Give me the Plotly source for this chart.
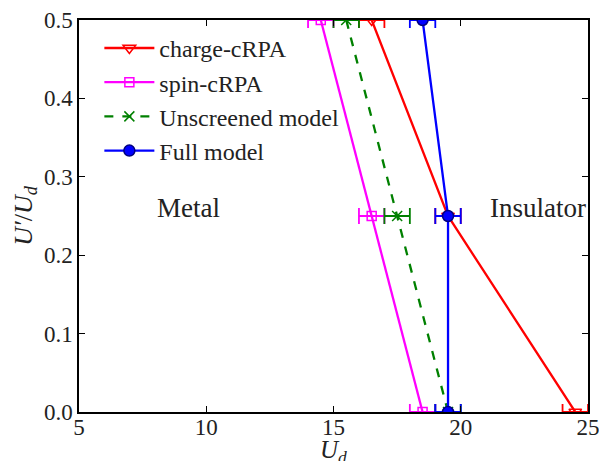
import plotly.graph_objects as go

y_vals = [0.0, 0.25, 0.5]
charge_x = [24.5, 19.5, 16.5]
spin_x = [18.5, 16.5, 14.5]
unscr_x = [19.5, 17.5, 15.5]
full_x = [19.5, 19.5, 18.5]
err = [0.5, 0.5, 0.5]

FONT = "Liberation Serif"

fig = go.Figure()

def add(name, xs, color, symbol, dash, size, mline=None, fillc=None):
    fig.add_trace(go.Scatter(
        x=xs, y=y_vals, name=name, mode="lines+markers",
        line=dict(color=color, width=2.3, dash=dash),
        marker=dict(symbol=symbol, size=size, color=fillc or color,
                    line=dict(color=mline or color, width=1.5)),
        error_x=dict(type="data", array=err, visible=True, color=color,
                     thickness=1.8, width=8),
        cliponaxis=True,
    ))

add("charge-cRPA", charge_x, "#ff0000", "triangle-down-open", "solid", 11)
add("spin-cRPA", spin_x, "#ff00ff", "square-open", "solid", 9)
add("Unscreened model", unscr_x, "#008000", "x-thin-open", "dash", 10)
add("Full model", full_x, "#0000ff", "circle", "solid", 11, mline="#000080")

fig.add_annotation(x=9.3, y=0.26, text="Metal", showarrow=False,
                   font=dict(family=FONT, size=27, color="#222"))
fig.add_annotation(x=23.05, y=0.26, text="Insulator", showarrow=False,
                   font=dict(family=FONT, size=27, color="#222"))
fig.add_annotation(x=15, xref="x", y=-0.1, yref="paper", yanchor="middle",
                   text="<i>U</i><sub><i>d</i></sub>", showarrow=False,
                   font=dict(family=FONT, size=25, color="#222"))

axis_common = dict(showgrid=False, zeroline=False, showline=True, linecolor="black",
                   linewidth=1.5, mirror="ticks", ticks="inside", ticklen=6,
                   tickwidth=1, tickcolor="black", automargin=False,
                   ticklabeloverflow="allow",
                   tickfont=dict(family=FONT, size=23, color="#222"))

fig.update_xaxes(range=[5, 25], dtick=5, tick0=5, ticklabelstandoff=-6,
                 **axis_common)
fig.update_yaxes(range=[0, 0.5], dtick=0.1, tickformat=".1f", ticklabelstandoff=0,
                 title=dict(text="<i>U′</i>/<i>U</i><sub><i>d</i></sub>", font=dict(family=FONT, size=26, color="#222"), standoff=4),
                 **axis_common)

fig.update_layout(
    width=599, height=461,
    margin=dict(l=79, r=11, t=20, b=49),
    plot_bgcolor="white", paper_bgcolor="white",
    showlegend=True,
    legend=dict(x=0.04, y=0.985, xanchor="left", yanchor="top",
                bgcolor="rgba(255,255,255,0)", borderwidth=0,
                font=dict(family=FONT, size=24, color="#222"),
                tracegroupgap=0, itemwidth=50),
)

fig.write_html("out.html")
